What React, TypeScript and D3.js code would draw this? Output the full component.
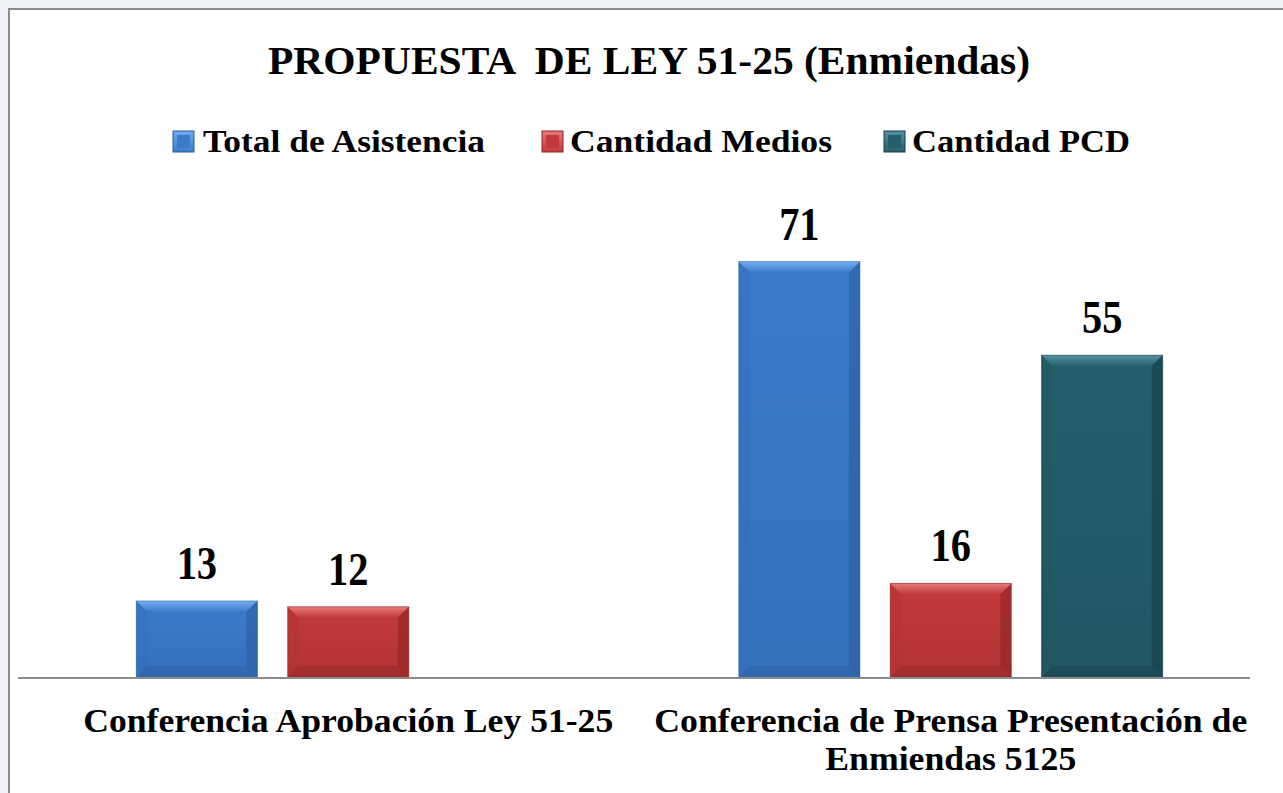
import React from "react";
import * as d3 from "d3";

const categories = [
  "Conferencia Aprobación Ley 51-25",
  "Conferencia de Prensa Presentación de Enmiendas 5125",
];
const categoryLines = [
  ["Conferencia Aprobación Ley 51-25"],
  ["Conferencia de Prensa Presentación de", "Enmiendas 5125"],
];
const seriesNames = ["Total de Asistencia", "Cantidad Medios", "Cantidad PCD"];
const totalAsistencia = [13, 71];
const cantidadMedios = [12, 16];
const cantidadPCD: (number | null)[] = [null, 55];
const seriesValues = [totalAsistencia, cantidadMedios, cantidadPCD];

const palette = [
  { main: "#3b7bcb", light: "#74adf0", dark: "#2b5d9e", side: "#3570bb" },
  { main: "#c23a3b", light: "#e87a7a", dark: "#8f2526", side: "#b33334" },
  { main: "#255f6c", light: "#55939f", dark: "#173f48", side: "#215663" },
];

const W = 1283;
const H = 793;
const FONT = '"Liberation Serif", "Times New Roman", serif';

export default function App() {
  const x0 = d3.scaleBand<string>().domain(categories).range([47, 1252]).paddingInner(0).paddingOuter(0);
  const x1 = d3
    .scaleBand<string>()
    .domain(seriesNames)
    .range([0, x0.bandwidth()])
    .paddingInner(0.2)
    .paddingOuter(0.59);
  const y = d3.scaleLinear().domain([0, 80]).range([677, 209]);
  const base = y(0);

  const legendLayout = [
    { mx: 173, tx: 203, tl: 282 },
    { mx: 542, tx: 570, tl: 262 },
    { mx: 884, tx: 912, tl: 218 },
  ];
  const catLineLen = [[530], [593, 251]];

  const bars: React.ReactNode[] = [];
  const labels: React.ReactNode[] = [];
  categories.forEach((c, ci) => {
    seriesNames.forEach((s, si) => {
      const v = seriesValues[si][ci];
      if (v == null) return;
      const bx = (x0(c) as number) + (x1(s) as number);
      const bw = x1.bandwidth();
      const by = y(v);
      const bh = base - by;
      const b = Math.min(11, bh / 2);
      const p = palette[si];
      bars.push(
        <g key={`b-${ci}-${si}`}>
          <rect x={bx} y={by} width={bw} height={bh} fill={`url(#body${si})`} />
          <polygon
            points={`${bx},${by} ${bx + bw},${by} ${bx + bw - b},${by + b} ${bx + b},${by + b}`}
            fill={`url(#top${si})`}
          />
          <polygon
            points={`${bx},${by} ${bx + b},${by + b} ${bx + b},${base - b} ${bx},${base}`}
            fill={p.side}
            opacity={0.6}
          />
          <polygon
            points={`${bx + bw},${by} ${bx + bw - b},${by + b} ${bx + bw - b},${base - b} ${bx + bw},${base}`}
            fill={p.dark}
            opacity={0.6}
          />
          <polygon
            points={`${bx},${base} ${bx + b},${base - b} ${bx + bw - b},${base - b} ${bx + bw},${base}`}
            fill={p.dark}
            opacity={0.4}
          />
          <rect x={bx} y={by} width={bw} height={bh} fill="none" stroke={p.dark} strokeWidth={1} opacity={0.5} />
        </g>
      );
      labels.push(
        <text
          key={`l-${ci}-${si}`}
          transform={`translate(${bx + bw / 2},${by - 22}) scale(0.88,1)`}
          textAnchor="middle"
          fontFamily={FONT}
          fontWeight="bold"
          fontSize={46}
          fill="#000"
        >
          {v}
        </text>
      );
    });
  });

  return (
    <svg
      width={W}
      height={H}
      style={{ position: "absolute", left: 0, top: 0, display: "block" }}
    >
      <defs>
        {palette.map((p, i) => (
          <React.Fragment key={i}>
            <linearGradient id={`body${i}`} x1="0" y1="0" x2="0" y2="1">
              <stop offset="0" stopColor={p.main} />
              <stop offset="1" stopColor={p.side} />
            </linearGradient>
            <linearGradient id={`top${i}`} x1="0" y1="0" x2="0" y2="1">
              <stop offset="0" stopColor={p.light} />
              <stop offset="1" stopColor={p.main} />
            </linearGradient>
          </React.Fragment>
        ))}
      </defs>
      <rect x={0} y={0} width={W} height={H} fill="#eef2f6" />
      <rect x={9} y={9} width={W + 20} height={H + 20} fill="#ffffff" stroke="#8a8a8a" strokeWidth={2} />

      <text
        x={(268 + 1030) / 2}
        y={74}
        textAnchor="middle"
        fontFamily={FONT}
        fontWeight="bold"
        fontSize={40}
        textLength={762}
        lengthAdjust="spacingAndGlyphs"
        fill="#000"
        style={{ whiteSpace: "pre" }}
      >
        {"PROPUESTA  DE LEY 51-25 (Enmiendas)"}
      </text>

      {seriesNames.map((s, i) => (
        <g key={s}>
          <rect x={legendLayout[i].mx} y={131} width={21} height={21} fill={`url(#top${i})`} stroke={palette[i].dark} strokeWidth={1} />
          <rect x={legendLayout[i].mx + 4} y={135} width={13} height={13} fill={palette[i].main} />
          <text
            x={legendLayout[i].tx}
            y={152}
            fontFamily={FONT}
            fontWeight="bold"
            fontSize={32}
            textLength={legendLayout[i].tl}
            lengthAdjust="spacingAndGlyphs"
            fill="#000"
          >
            {s}
          </text>
        </g>
      ))}

      {bars}
      <line x1={18} x2={1250} y1={base + 1} y2={base + 1} stroke="#8c8c8c" strokeWidth={2} />
      {labels}

      {categories.map((c, ci) => {
        const cx = (x0(c) as number) + x0.bandwidth() / 2;
        return categoryLines[ci].map((line, li) => (
          <text
            key={`${ci}-${li}`}
            x={cx}
            y={732 + li * 38}
            textAnchor="middle"
            fontFamily={FONT}
            fontWeight="bold"
            fontSize={34}
            textLength={catLineLen[ci][li]}
            lengthAdjust="spacingAndGlyphs"
            fill="#000"
          >
            {line}
          </text>
        ));
      })}
    </svg>
  );
}
